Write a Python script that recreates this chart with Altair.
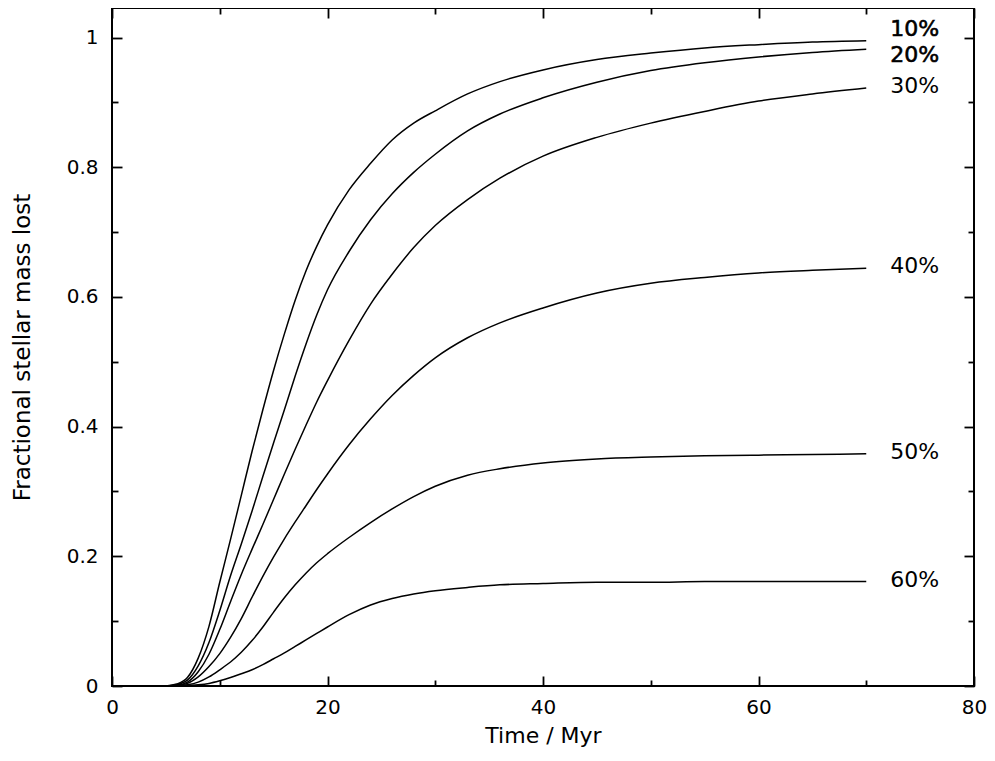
import altair as alt
import pandas as pd

# ---- data ----
T = [5, 6, 7, 8, 9, 10, 11, 12, 13, 14, 15, 16, 17, 18, 19, 20,
     22, 24, 26, 28, 30, 33, 36, 40, 45, 50, 55, 60, 65, 70]

series_names = ["10%", "20%", "30%", "40%", "50%", "60%"]

m10 = [0.0, 0.003, 0.013, 0.043, 0.092, 0.160, 0.226, 0.294, 0.362, 0.426,
       0.487, 0.543, 0.595, 0.640, 0.678, 0.711, 0.765, 0.806, 0.842, 0.868,
       0.887, 0.913, 0.932, 0.950, 0.966, 0.976, 0.984, 0.989, 0.993, 0.995]
m20 = [0.0, 0.002, 0.009, 0.031, 0.067, 0.116, 0.170, 0.219, 0.270, 0.323,
       0.375, 0.426, 0.478, 0.527, 0.572, 0.611, 0.670, 0.719, 0.759, 0.792,
       0.820, 0.856, 0.882, 0.907, 0.931, 0.949, 0.961, 0.970, 0.977, 0.982]
m30 = [0.0, 0.001, 0.006, 0.022, 0.049, 0.087, 0.130, 0.172, 0.211, 0.249,
       0.288, 0.327, 0.365, 0.402, 0.438, 0.471, 0.533, 0.589, 0.635, 0.676,
       0.710, 0.750, 0.783, 0.817, 0.846, 0.868, 0.886, 0.902, 0.913, 0.922]
m40 = [0.0, 0.001, 0.004, 0.014, 0.030, 0.050, 0.075, 0.104, 0.137, 0.169,
       0.199, 0.227, 0.253, 0.278, 0.303, 0.327, 0.372, 0.412, 0.448, 0.479,
       0.506, 0.537, 0.560, 0.583, 0.606, 0.621, 0.630, 0.637, 0.641, 0.644]
m50 = [0.0, 0.0005, 0.002, 0.006, 0.014, 0.025, 0.037, 0.052, 0.070, 0.091,
       0.114, 0.136, 0.156, 0.174, 0.190, 0.204, 0.229, 0.252, 0.273, 0.292,
       0.308, 0.325, 0.335, 0.344, 0.350, 0.353, 0.355, 0.356, 0.357, 0.358]
m60 = [0.0, 0.0, 0.001, 0.002, 0.004, 0.008, 0.013, 0.019, 0.025, 0.033,
       0.042, 0.051, 0.061, 0.071, 0.081, 0.091, 0.110, 0.125, 0.135, 0.142,
       0.147, 0.152, 0.156, 0.158, 0.160, 0.160, 0.161, 0.161, 0.161, 0.161]

x_major = [0, 20, 40, 60, 80]
x_minor = [10, 30, 50, 70]
y_major = [0, 0.2, 0.4, 0.6, 0.8, 1.0]
y_minor = [0.1, 0.3, 0.5, 0.7, 0.9]

# ---- tables ----
all_series = [m10, m20, m30, m40, m50, m60]
rows = []
for name, vals in zip(series_names, all_series):
    for t, v in zip(T, vals):
        rows.append({"t": t, "v": v, "s": name})
df = pd.DataFrame(rows)

lab = pd.DataFrame({"t": [T[-1]] * len(series_names),
                    "v": [vals[-1] for vals in all_series],
                    "s": series_names})

FONT = "DejaVu Sans"
xs = alt.Scale(domain=[0, 80], nice=False)
ys = alt.Scale(domain=[0, 1.0455], nice=False)

MAJ = 10
MIN = 6


def xaxis(orient, values, size, labels=False, title=None):
    kw = dict(orient=orient, values=values, tickSize=size, offset=-size,
              labels=labels, title=title, domain=False, grid=False)
    if labels:
        kw.update(labelFontSize=20, labelPadding=11, labelFlush=False,
                  titleFontSize=22, titlePadding=8)
    return alt.Axis(**kw)


def yaxis(orient, values, size, labels=False, title=None):
    kw = dict(orient=orient, values=values, tickSize=size, offset=-size,
              labels=labels, title=title, domain=False, grid=False)
    if labels:
        kw.update(labelFontSize=20, labelPadding=14, format="~g",
                  titleFontSize=23, titlePadding=32)
    return alt.Axis(**kw)


lines = alt.Chart(df).mark_line(color="black", strokeWidth=1.5,
                                interpolate="monotone").encode(
    x=alt.X("t:Q", scale=xs, axis=xaxis("bottom", x_major, MAJ, True, "Time / Myr")),
    y=alt.Y("v:Q", scale=ys, axis=yaxis("left", y_major, MAJ, True,
                                        "Fractional stellar mass lost")),
    detail="s:N",
    order="t:Q",
)


def guide_layer(xo, xv, xsz, yo, yv, ysz):
    return alt.Chart(df).mark_line(strokeOpacity=0).encode(
        x=alt.X("t:Q", scale=xs, axis=xaxis(xo, xv, xsz)),
        y=alt.Y("v:Q", scale=ys, axis=yaxis(yo, yv, ysz)),
        detail="s:N",
    )


g1 = guide_layer("bottom", x_minor, MIN, "left", y_minor, MIN)
g2 = guide_layer("top", x_major, MAJ, "right", y_major, MAJ)
g3 = guide_layer("top", x_minor, MIN, "right", y_minor, MIN)

text_base = dict(align="left", baseline="middle", dx=24, fontSize=22,
                 font=FONT, color="black")

enc = dict(
    x=alt.X("t:Q", scale=xs, axis=None),
    y=alt.Y("v:Q", scale=ys, axis=None),
    text="s:N",
)

t_rest = alt.Chart(lab).transform_filter(
    alt.FieldOneOfPredicate(field="s", oneOf=series_names[2:])
).mark_text(dy=-2, **text_base).encode(**enc)

t10 = alt.Chart(lab).transform_filter(
    alt.FieldEqualPredicate(field="s", equal=series_names[0])
).mark_text(dy=-12, stroke="black", strokeWidth=0.6, **text_base).encode(**enc)

t20 = alt.Chart(lab).transform_filter(
    alt.FieldEqualPredicate(field="s", equal=series_names[1])
).mark_text(dy=6, stroke="black", strokeWidth=0.6, **text_base).encode(**enc)

chart = alt.layer(lines, g1, g2, g3, t_rest, t10, t20).resolve_axis(
    x="independent", y="independent"
).properties(
    width=862,
    height=678,
    autosize=alt.AutoSizeParams(type="none"),
    padding={"left": 104, "top": 0, "right": 13, "bottom": 66},
    background="white",
).configure_view(
    stroke="black", strokeWidth=2
).configure_axis(
    tickColor="black", tickWidth=1.8, labelColor="black", titleColor="black",
    labelFont=FONT, titleFont=FONT, titleFontWeight="normal",
)

chart.save("out.html", embed_options={"renderer": "svg", "actions": False})
